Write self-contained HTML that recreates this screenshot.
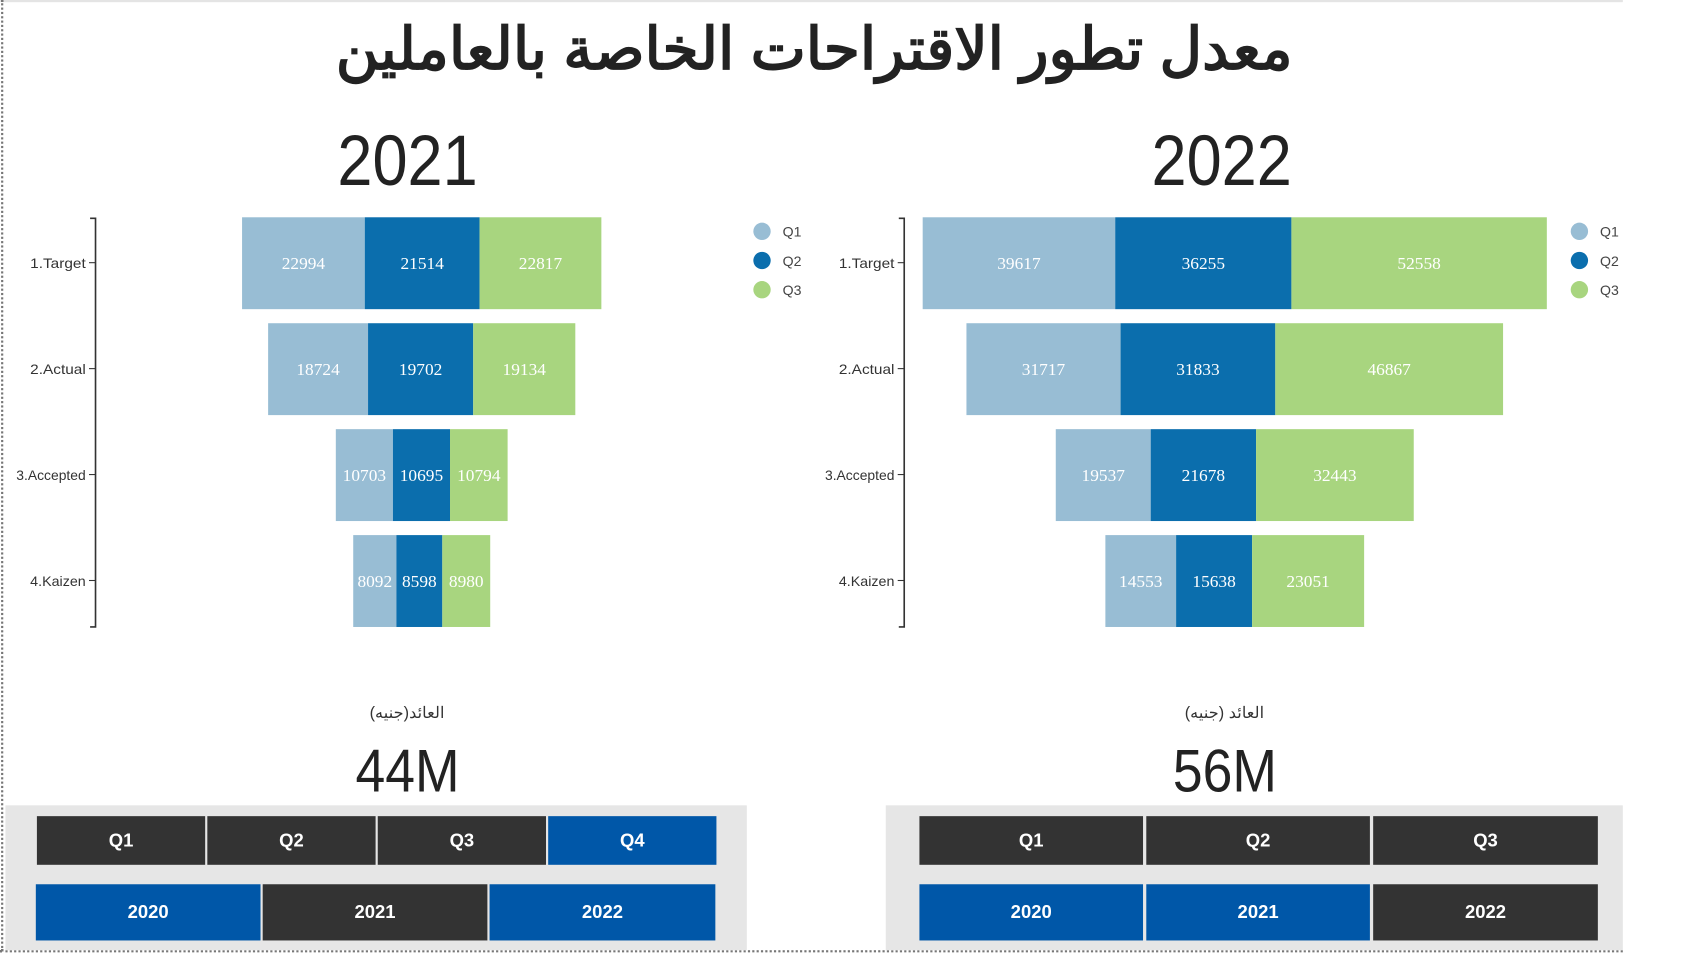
<!DOCTYPE html>
<html><head><meta charset="utf-8">
<style>
html,body{margin:0;padding:0;background:#fff;width:1700px;height:970px;overflow:hidden}
#wrap{position:absolute;left:0;top:0;width:1560px;height:895px;transform-origin:0 0;transform:scale(1.0855,1.081);font-family:"Liberation Sans","DejaVu Sans",sans-serif}
.abs{position:absolute}
.btn{position:absolute;color:#fff;font-weight:bold;font-size:17px;display:flex;align-items:center;justify-content:center}
.cond{display:inline-block;transform:scaleX(0.88)}
</style></head><body>
<div id="wrap">
<div class="abs" style="left:0;top:0;width:1495px;height:2px;background:#e4e4e4"></div>
<div class="abs" style="left:1px;top:0;width:0;height:880px;border-left:2px dotted #777"></div>
<div class="abs" style="left:0;top:879px;width:1495px;height:0;border-top:2px dotted #777"></div>
<div class="abs" style="left:0;top:14px;width:1500px;text-align:center;font-family:'Liberation Sans','Noto Sans CJK SC',sans-serif;font-weight:bold;font-size:54px;color:#222" dir="rtl">معدل تطور الاقتراحات الخاصة بالعاملين</div>
<div class="abs" style="left:275px;top:110px;width:200px;text-align:center;font-size:66px;color:#222"><span class="cond">2021</span></div>
<div class="abs" style="left:1025px;top:110px;width:200px;text-align:center;font-size:66px;color:#222"><span class="cond">2022</span></div>
<svg id="chart" class="abs" style="left:0;top:0" width="1560" height="640"></svg>
<div class="abs" style="left:275px;top:650px;width:200px;text-align:center;font-size:15px;color:#333;font-family:'Liberation Sans','Noto Sans CJK SC',sans-serif">العائد(جنيه)</div>
<div class="abs" style="left:275px;top:680px;width:200px;text-align:center;font-size:56px;color:#222"><span class="cond">44M</span></div>
<div class="abs" style="left:1028px;top:650px;width:200px;text-align:center;font-size:15px;color:#333;font-family:'Liberation Sans','Noto Sans CJK SC',sans-serif">العائد (جنيه)</div>
<div class="abs" style="left:1028px;top:680px;width:200px;text-align:center;font-size:56px;color:#222"><span class="cond">56M</span></div>
<div class="abs" style="left:5px;top:745px;width:683px;height:134px;background:#e6e6e6"></div>
<div class="abs" style="left:816px;top:745px;width:679px;height:134px;background:#e6e6e6"></div>
<div class="btn" style="left:34px;top:755px;width:155px;height:45px;background:#333">Q1</div>
<div class="btn" style="left:191px;top:755px;width:155px;height:45px;background:#333">Q2</div>
<div class="btn" style="left:348px;top:755px;width:155px;height:45px;background:#333">Q3</div>
<div class="btn" style="left:505px;top:755px;width:155px;height:45px;background:#0057a8">Q4</div>
<div class="btn" style="left:33px;top:818px;width:207px;height:52px;background:#0057a8">2020</div>
<div class="btn" style="left:242px;top:818px;width:207px;height:52px;background:#333">2021</div>
<div class="btn" style="left:451px;top:818px;width:208px;height:52px;background:#0057a8">2022</div>
<div class="btn" style="left:847px;top:755px;width:206px;height:45px;background:#333">Q1</div>
<div class="btn" style="left:1056px;top:755px;width:206px;height:45px;background:#333">Q2</div>
<div class="btn" style="left:1265px;top:755px;width:207px;height:45px;background:#333">Q3</div>
<div class="btn" style="left:847px;top:818px;width:206px;height:52px;background:#0057a8">2020</div>
<div class="btn" style="left:1056px;top:818px;width:206px;height:52px;background:#0057a8">2021</div>
<div class="btn" style="left:1265px;top:818px;width:207px;height:52px;background:#333">2022</div>
</div>
<script>
const stages = ["1.Target","2.Actual","3.Accepted","4.Kaizen"];
const series = ["Q1","Q2","Q3"];
const q1_2021 = [22994,18724,10703,8092];
const q2_2021 = [21514,19702,10695,8598];
const q3_2021 = [22817,19134,10794,8980];
const q1_2022 = [39617,31717,19537,14553];
const q2_2022 = [36255,31833,21678,15638];
const q3_2022 = [52558,46867,32443,23051];
const colors = ["#98bdd4","#0b6ead","#a8d57f"];
const NS="http://www.w3.org/2000/svg";
const svg=document.getElementById('chart');
function mk(tag,attrs){const e=document.createElementNS(NS,tag);for(const k in attrs)e.setAttribute(k,attrs[k]);svg.appendChild(e);return e;}
function drawFunnel(name,data,cx,scale,axisX,legendX){
  const y=i=>243+i*98;
  const ax=mk('path',{d:`M${axisX-5} 202H${axisX}V580H${axisX-5}`,stroke:'#333','stroke-width':1.5,fill:'none'});
  
  
  stages.forEach((s,i)=>{
    const t=mk('line',{x1:axisX-6,x2:axisX,y1:y(i),y2:y(i),stroke:'#333'});
    
    
    const lb=mk('text',{x:axisX-9,y:y(i)+5,'text-anchor':'end','font-size':13,fill:'#333','font-family':'Liberation Sans, sans-serif',textLength:s.length*6.4,lengthAdjust:'spacingAndGlyphs'});
    lb.textContent=s;
    
    
    const total=data.reduce((a,d)=>a+d[i],0);
    let x=cx-total*scale/2;
    data.forEach((d,k)=>{
      const w=d[i]*scale;
      const r=mk('rect',{x:x,y:y(i)-42,width:w,height:85,fill:colors[k]});
      
      
      const tx=mk('text',{x:x+w/2,y:y(i)+6,'text-anchor':'middle','font-size':16,fill:'#fff','font-family':'Liberation Serif, serif'});
      tx.textContent=d[i];
      
      
      x+=w;
    });
  });
  series.forEach((s,k)=>{
    const c=mk('circle',{cx:legendX,cy:214+k*27,r:8,fill:colors[k]});
    
    
    const t=mk('text',{x:legendX+19,y:219+k*27,'font-size':13,fill:'#444','font-family':'Liberation Sans, sans-serif'});
    t.textContent=s;
    
    
  });
}
drawFunnel('funnel-2021',[q1_2021,q2_2021,q3_2021],388.5,331/67325,88,702);
drawFunnel('funnel-2022',[q1_2022,q2_2022,q3_2022],1137.5,575/128430,833,1455);
</script>
</body></html>
